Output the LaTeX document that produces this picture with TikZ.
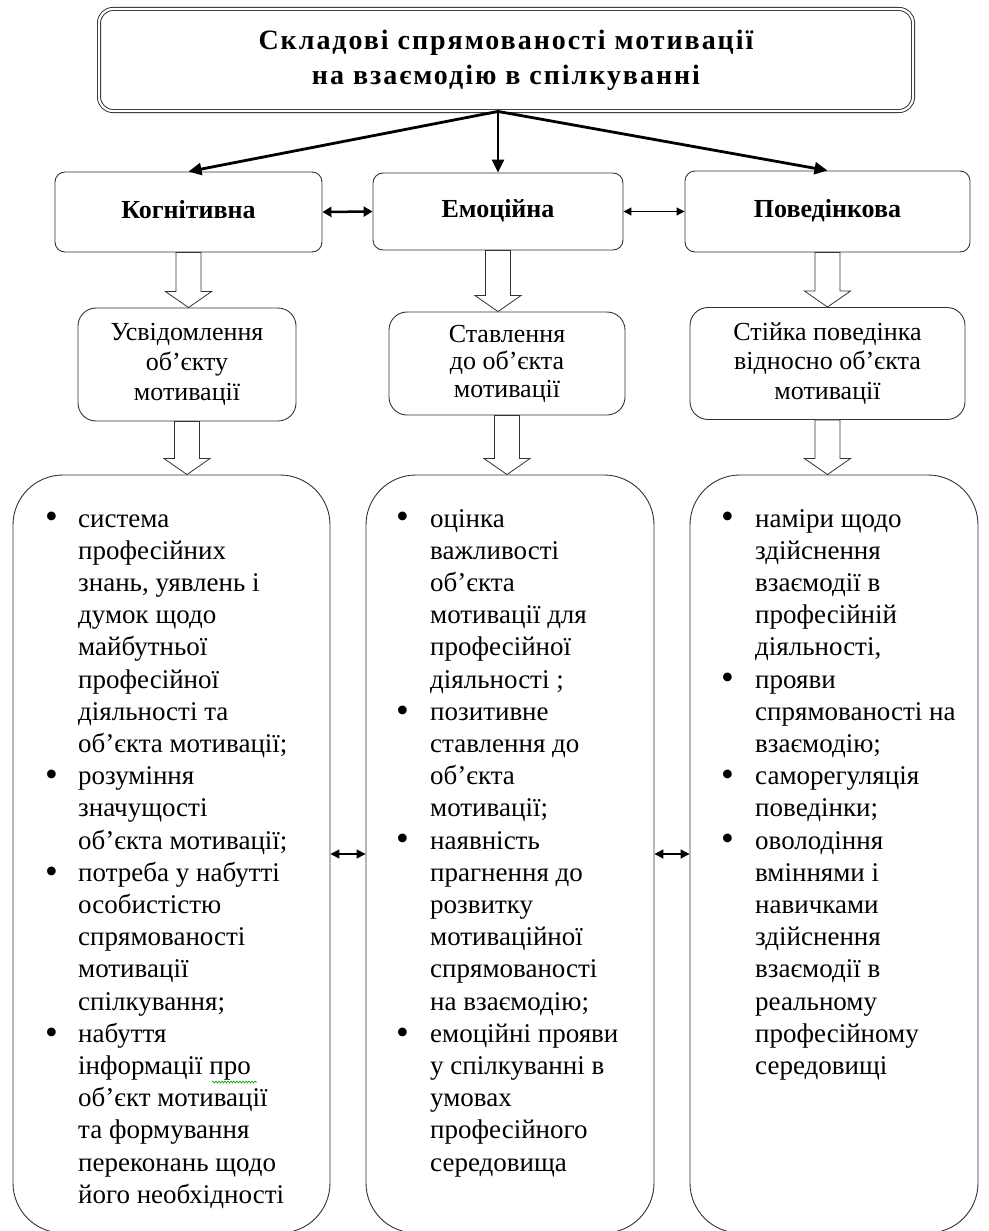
\documentclass[tikz,border=0pt]{standalone}
\usepackage{fontspec}
\setmainfont{Liberation Serif}
\usetikzlibrary{arrows.meta,calc,decorations.pathmorphing}

\newcommand{\hollowarrow}[2]{%
  \draw[hollow] let \p1=(#1), \p2=(#2) in
    (\x1-12.5pt,\y1) -- (\x1+12.5pt,\y1) -- (\x1+12.5pt,\y2+16pt) -- (\x1+23pt,\y2+16pt)
    -- (\x1,\y2) -- (\x1-23pt,\y2+16pt) -- (\x1-12.5pt,\y2+16pt) -- cycle;}
\newcommand{\bul}{\raisebox{-0.07em}{\scalebox{1.35}{\textbullet}}}

\begin{document}
\begin{tikzpicture}[x=1pt,y=-1pt,
  titlebox/.style={draw=black!85, line width=0.9pt, double, double distance=2.2pt, rounded corners=14pt,
    align=center, font=\fontsize{28}{35}\selectfont\bfseries\addfontfeature{LetterSpace=7}},
  topbox/.style={draw=black!80, line width=0.9pt, rounded corners=10pt, text height=18pt, text depth=6pt,
    font=\fontsize{26}{30}\selectfont\bfseries},
  midbox/.style={draw=black!80, line width=0.9pt, rounded corners=18pt, align=center, font=\fontsize{26}{29.5}\selectfont},
  bigbox/.style={draw=black!80, line width=0.9pt, rounded corners=50pt},
  listtext/.style={inner sep=0pt, anchor=base west, font=\fontsize{27}{32.2}\selectfont},
  mainarrow/.style={line width=2.8pt, -{Triangle[length=13pt,width=12pt]}},
  hollow/.style={draw=black!80, line width=0.8pt, fill=white},
  thickboth/.style={line width=2.5pt, {Triangle[length=9pt,width=10pt]}-{Triangle[length=9pt,width=10pt]}},
  thinboth/.style={line width=1pt, {Triangle[length=8pt,width=8pt]}-{Triangle[length=8pt,width=8pt]}},
  lowboth/.style={line width=1.3pt, {Triangle[length=9pt,width=9pt]}-{Triangle[length=9pt,width=9pt]}}]
\useasboundingbox (0,0) rectangle (988,1231);

\node[titlebox, minimum width=814pt, minimum height=102pt] (title) at (506,60) {\raisebox{0pt}[0pt][0pt]{}Складові спрямованості мотивації\\на взаємодію в спілкуванні};

\node[topbox, minimum width=267pt, minimum height=80pt] (kog) at (188.5,212) {Когнітивна};
\node[topbox, minimum width=250pt, minimum height=77pt] (emo) at (498,211.5) {Емоційна};
\node[topbox, minimum width=285pt, minimum height=81pt] (beh) at (827.5,211.5) {Поведінкова};
\coordinate (hub) at (title.south -| emo.north);

\node[midbox, minimum width=218pt, minimum height=113pt, font=\fontsize{26}{30}\selectfont] (kog2) at (187,364.5) {Усвідомлення\\об’єкту\\мотивації};
\node[midbox, minimum width=236pt, minimum height=103pt, font=\fontsize{26}{27.5}\selectfont] (emo2) at (507,363.5) {Ставлення\\до об’єкта\\мотивації};
\node[midbox, minimum width=275pt, minimum height=112pt] (beh2) at (827.5,363.5) {Стійка поведінка\\відносно об’єкта\\мотивації};

\node[bigbox, minimum width=317pt, minimum height=758pt] (kog3) at (171.5,854) {};
\node[bigbox, minimum width=288pt, minimum height=758pt] (emo3) at (510,854) {};
\node[bigbox, minimum width=288pt, minimum height=758pt] (beh3) at (834,854) {};

\draw[mainarrow] (hub) -- (kog.north);
\draw[mainarrow] (hub) -- (emo.north);
\draw[mainarrow] (hub) -- (beh.north);

\draw[thickboth] (kog.east) -- (emo.west);
\draw[thinboth] (emo.east) -- (beh.west);

\hollowarrow{kog.south}{kog2.north}
\hollowarrow{emo.south}{emo2.north}
\hollowarrow{beh.south}{beh2.north}
\hollowarrow{kog2.south}{kog3.north}
\hollowarrow{emo2.south}{emo3.north}
\hollowarrow{beh2.south}{beh3.north}

\draw[lowboth] (kog3.east) -- (emo3.west);
\draw[lowboth] (emo3.east) -- (beh3.west);

\node[listtext] (kog3t) at (45,527) {\begin{tabular}[t]{@{}p{33pt}@{}l@{}}
\bul & система\\
 & професійних\\
 & знань, уявлень і\\
 & думок щодо\\
 & майбутньої\\
 & професійної\\
 & діяльності та\\
 & об’єкта мотивації;\\
\bul & розуміння\\
 & значущості\\
 & об’єкта мотивації;\\
\bul & потреба у набутті\\
 & особистістю\\
 & спрямованості\\
 & мотивації\\
 & спілкування;\\
\bul & набуття\\
 & інформації про\\
 & об’єкт мотивації\\
 & та формування\\
 & переконань щодо\\
 & його необхідності
\end{tabular}};

\node[listtext] (emo3t) at (396,527) {\begin{tabular}[t]{@{}p{34pt}@{}l@{}}
\bul & оцінка\\
 & важливості\\
 & об’єкта\\
 & мотивації для\\
 & професійної\\
 & діяльності ;\\
\bul & позитивне\\
 & ставлення до\\
 & об’єкта\\
 & мотивації;\\
\bul & наявність\\
 & прагнення до\\
 & розвитку\\
 & мотиваційної\\
 & спрямованості\\
 & на взаємодію;\\
\bul & емоційні прояви\\
 & у спілкуванні в\\
 & умовах\\
 & професійного\\
 & середовища
\end{tabular}};

\node[listtext] (beh3t) at (721,527) {\begin{tabular}[t]{@{}p{34pt}@{}l@{}}
\bul & наміри щодо\\
 & здійснення\\
 & взаємодії в\\
 & професійній\\
 & діяльності,\\
\bul & прояви\\
 & спрямованості на\\
 & взаємодію;\\
\bul & саморегуляція\\
 & поведінки;\\
\bul & оволодіння\\
 & вміннями і\\
 & навичками\\
 & здійснення\\
 & взаємодії в\\
 & реальному\\
 & професійному\\
 & середовищі
\end{tabular}};

\draw[green!60!black, line width=0.6pt, decorate, decoration={snake, amplitude=1pt, segment length=3pt}] (212,1082) -- (257,1082);
\end{tikzpicture}
\end{document}
